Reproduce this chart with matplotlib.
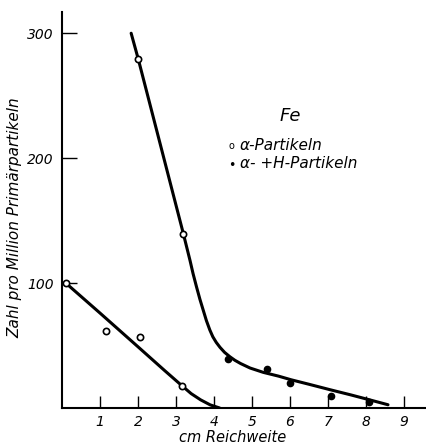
import matplotlib
matplotlib.use("Agg")
import matplotlib.pyplot as plt

# Measured points
alpha_x = [0.1, 1.15, 2.05, 3.15, 2.0, 3.19]
alpha_y = [100, 62, 57, 18, 279, 139]
alphah_x = [4.37, 5.4, 6.0, 7.09, 8.07]
alphah_y = [39, 31, 20, 10, 5]

# Drawn curves (hand-fitted through the points)
upper_x = [1.82, 2.01, 3.19, 3.28, 3.37, 3.45, 3.54, 3.63, 3.72, 3.8, 3.89, 3.97, 4.06, 4.16,
           4.28, 4.42, 4.55, 4.7, 4.95, 5.3, 5.7, 6.03, 6.5, 7.06, 7.6, 8.1, 8.58]
upper_y = [300, 279, 140, 129, 118, 107.5, 97, 87, 78, 70, 62.5, 57, 52.5, 48.5,
           44.5, 41, 38.2, 35.6, 32, 28.5, 25.5, 22.6, 19, 14.6, 10.5, 6.5, 2.6]
lower_x = [0.1, 1.0, 2.0, 2.7, 3.15, 3.4, 3.65, 3.9, 4.15]
lower_y = [100, 76, 49, 30, 18, 11.5, 6.5, 2.5, 0]

xticks = [1, 2, 3, 4, 5, 6, 7, 8, 9]
yticks = [100, 200, 300]

fig = plt.figure(figsize=(4.26, 4.46), dpi=100)
ax = fig.add_axes([62 / 426, 1 - 408 / 446, 364 / 426, 396 / 446])
ax.set_xlim(0, 9.58)
ax.set_ylim(0, 317)

font = dict(family="DejaVu Sans", style="italic")

ax.plot(upper_x, upper_y, color="black", lw=2.2, solid_capstyle="round",
        solid_joinstyle="round", zorder=2)
ax.plot(lower_x, lower_y, color="black", lw=2.2, solid_capstyle="round",
        solid_joinstyle="round", zorder=2)
ax.plot(alpha_x, alpha_y, "o", ms=4.5, mfc="white", mec="black", mew=1.2, zorder=3)
ax.plot(alphah_x, alphah_y, "o", ms=4.5, mfc="black", mec="black", zorder=3)

for s in ["top", "right"]:
    ax.spines[s].set_visible(False)
for s in ["left", "bottom"]:
    ax.spines[s].set_linewidth(1.5)

ax.set_xticks(xticks)
ax.set_xticklabels([str(v) for v in xticks], fontsize=10, **font)
ax.set_yticks(yticks)
ax.set_yticklabels([str(v) for v in yticks], fontsize=10, **font)
ax.tick_params(axis="x", direction="in", length=9, width=1, pad=5)
ax.tick_params(axis="y", direction="in", length=11, width=1, pad=6)

fig.text(233 / 426, 1 - 438 / 446, "cm Reichweite", ha="center", va="center", fontsize=10.5, **font)
fig.text(15 / 426, 1 - 218 / 446, "Zahl pro Million Primärpartikeln", ha="center", va="center",
         rotation=90, fontsize=11, **font)

fig.text(290 / 426, 1 - 116 / 446, "Fe", ha="center", va="center", fontsize=13, **font)
fig.text(231 / 426, 1 - 146 / 446, "o", ha="center", va="center", fontsize=7, family="DejaVu Sans")
fig.text(240 / 426, 1 - 146 / 446, "α-Partikeln", ha="left", va="center", fontsize=11, **font)
fig.text(232 / 426, 1 - 165 / 446, "•", ha="center", va="center", fontsize=9, family="DejaVu Sans")
fig.text(240 / 426, 1 - 164 / 446, "α- +H-Partikeln", ha="left", va="center", fontsize=11, **font)

fig.savefig("out.png", dpi=100)
